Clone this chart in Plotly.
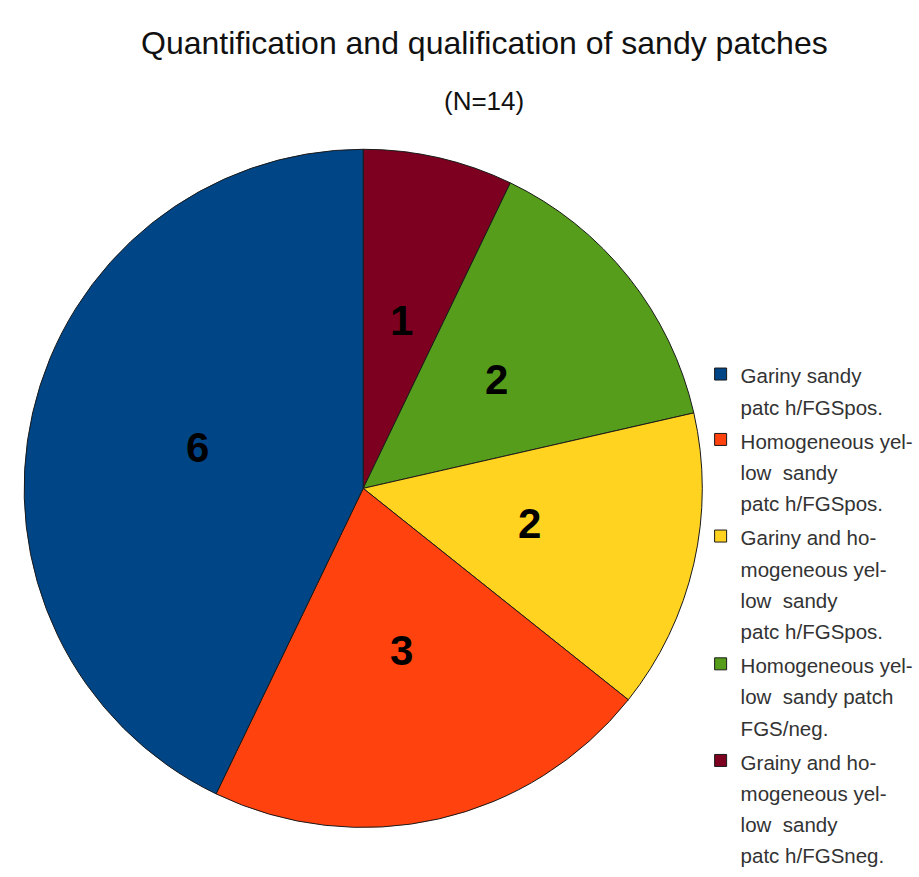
import math
import plotly.graph_objects as go

# data in clockwise order starting at 12 o'clock
categories = [
    ["Grainy and ho-", "mogeneous yel-", "low  sandy", "patc h/FGSneg."],
    ["Homogeneous yel-", "low  sandy patch", "FGS/neg."],
    ["Gariny and ho-", "mogeneous yel-", "low  sandy", "patc h/FGSpos."],
    ["Homogeneous yel-", "low  sandy", "patc h/FGSpos."],
    ["Gariny sandy", "patc h/FGSpos."],
]
values = [1, 2, 2, 3, 6]
colors = ["#7e0021", "#579d1c", "#ffd320", "#ff420e", "#004586"]

labels = ["<br>".join("<span style='font-size:20.5px'>%s</span>" % ln for ln in c) for c in categories]

W, H = 919, 877
cx, cy, r = 366, 494, 343

dom_x = [(cx - r) / W, (cx + r) / W]
dom_y = [1 - (cy + r) / H, 1 - (cy - r) / H]

fig = go.Figure(go.Pie(
    labels=labels,
    values=values,
    sort=False,
    direction="clockwise",
    rotation=0,
    marker=dict(colors=colors, line=dict(color="#1a1a1a", width=1)),
    textinfo="none",
    domain=dict(x=dom_x, y=dom_y),
    hoverinfo="label+value",
))

# value labels placed at mid-angle, half radius
total = sum(values)
annotations = []
cum = 0
for v in values:
    mid = (cum + v / 2) / total * 2 * math.pi
    cum += v
    px = cx + 0.5 * r * math.sin(mid)
    py = cy - 0.5 * r * math.cos(mid) - 3
    annotations.append(dict(
        text=str(v), x=px / W, y=1 - py / H, xref="paper", yref="paper",
        showarrow=False, xanchor="center", yanchor="middle",
        font=dict(family="Liberation Sans, Arial, sans-serif", size=42, color="#000000", weight="bold"),
    ))

annotations += [
    dict(text="Quantification and qualification of sandy patches", x=488 / W, y=1 - 43 / H,
         xref="paper", yref="paper", showarrow=False, xanchor="center", yanchor="middle",
         font=dict(size=32, color="#111111", family="Liberation Sans, Arial, sans-serif")),
    dict(text="(N=14)", x=488 / W, y=1 - 102 / H,
         xref="paper", yref="paper", showarrow=False, xanchor="center", yanchor="middle",
         font=dict(size=26, color="#111111", family="Liberation Sans, Arial, sans-serif")),
]

fig.update_layout(
    width=W, height=H,
    margin=dict(l=0, r=0, t=0, b=0),
    paper_bgcolor="white",
    plot_bgcolor="white",
    font=dict(family="Liberation Sans, Arial, sans-serif"),
    showlegend=True,
    legend=dict(
        x=706 / W, y=1 - 356 / H, xanchor="left", yanchor="top",
        traceorder="reversed",
        valign="top",
        font=dict(size=24, color="#333333", family="Liberation Sans, Arial, sans-serif"),
        bgcolor="rgba(0,0,0,0)",
        itemwidth=30,
    ),
    annotations=annotations,
)

fig.write_html("out.html")
